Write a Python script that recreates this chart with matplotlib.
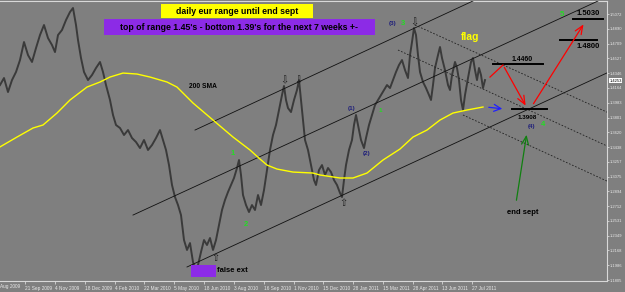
import matplotlib
matplotlib.use("Agg")
import matplotlib.pyplot as plt
from matplotlib.patches import Rectangle

# EURUSD daily, x = bar column of the MT4 window, close
bar_x = [0, 4, 8, 12, 16, 20, 24, 28, 32, 36, 40, 44, 48, 52, 55, 58, 62, 66, 70, 73,
         76, 78, 81, 84, 88, 92, 96, 100, 103, 106, 110, 113, 116, 120, 124, 128, 132, 136, 140, 144,
         148, 152, 156, 160, 163, 166, 169, 172, 175, 178, 181, 184, 187, 190, 193, 196, 198, 201, 204, 207,
         210, 213, 216, 219, 222, 225, 228, 231, 234, 237, 239, 241, 243, 246, 249, 252, 255, 258, 261, 264,
         267, 270, 273, 276, 279, 282, 284, 286, 288, 291, 294, 297, 299, 301, 303, 305, 308, 311, 314, 316,
         319, 322, 325, 328, 331, 334, 337, 340, 342, 344, 346, 349, 352, 354, 356, 358, 361, 364, 366, 369,
         372, 375, 378, 381, 384, 387, 390, 393, 396, 399, 402, 405, 408, 410, 412, 414, 416, 418, 420, 423,
         426, 429, 431, 433, 435, 438, 440, 442, 445, 448, 450, 452, 455, 457, 459, 461, 463, 465, 468, 471,
         473, 475, 477, 479, 481, 483, 485]
close = [1.4200, 1.4286, 1.4114, 1.4261, 1.4360, 1.4507, 1.4728, 1.4568, 1.4483, 1.4654,
         1.4814, 1.4937, 1.4777, 1.4691, 1.4605, 1.4814, 1.4876, 1.4998, 1.5097, 1.5146,
         1.4937, 1.4753, 1.4532, 1.4360, 1.4261, 1.4323, 1.4409, 1.4483, 1.4360, 1.4200,
         1.4016, 1.3832, 1.3709, 1.3672, 1.3586, 1.3647, 1.3549, 1.3500, 1.3426, 1.3525,
         1.3402, 1.3463, 1.3549, 1.3647, 1.3525, 1.3402, 1.3217, 1.2972, 1.2824, 1.2726,
         1.2603, 1.2296, 1.2174, 1.2259, 1.2026, 1.1903, 1.1989, 1.2149, 1.2296, 1.2235,
         1.2321, 1.2174, 1.2296, 1.2481, 1.2665, 1.2788, 1.2886, 1.2972, 1.3058, 1.3181,
         1.3279, 1.3095, 1.2849, 1.2726, 1.2640, 1.2726, 1.2665, 1.2849, 1.2726, 1.2910,
         1.3156, 1.3402, 1.3586, 1.3709, 1.3893, 1.4077, 1.4188, 1.4016, 1.3917, 1.3868,
         1.4016, 1.4139, 1.4261, 1.4016, 1.3770, 1.3525, 1.3402, 1.3217, 1.3033, 1.2972,
         1.3156, 1.3217, 1.3095, 1.3181, 1.3131, 1.3033, 1.2972, 1.2874, 1.2824, 1.3033,
         1.3217, 1.3402, 1.3525, 1.3709, 1.3832, 1.3709, 1.3525, 1.3426, 1.3549, 1.3709,
         1.3832, 1.3954, 1.4016, 1.4077, 1.4139, 1.4200, 1.4163, 1.4261, 1.4360, 1.4446,
         1.4507, 1.4384, 1.4286, 1.4568, 1.4728, 1.4900, 1.4814, 1.4568, 1.4360, 1.4237,
         1.4163, 1.4077, 1.4016, 1.4200, 1.4409, 1.4568, 1.4667, 1.4532, 1.4384, 1.4200,
         1.4139, 1.4323, 1.4483, 1.4409, 1.4261, 1.4016, 1.3893, 1.4077, 1.4286, 1.4483,
         1.4532, 1.4384, 1.4261, 1.4409, 1.4323, 1.4163, 1.4261]

sma_x = [0, 17, 33, 43, 57, 70, 87, 100, 110, 123, 137, 150, 167, 177, 193, 213, 233, 250,
         260, 267, 277, 293, 313, 320, 340, 353, 367, 383, 400, 413, 427, 440, 453, 467, 483]
sma_200 = [1.3440, 1.3561, 1.3672, 1.3709, 1.3856, 1.4016, 1.4175, 1.4237, 1.4298, 1.4347,
           1.4335, 1.4298, 1.4237, 1.4175, 1.3979, 1.3770, 1.3561, 1.3402, 1.3291, 1.3217,
           1.3168, 1.3131, 1.3119, 1.3095, 1.3058, 1.3058, 1.3119, 1.3279, 1.3414, 1.3561,
           1.3647, 1.3770, 1.3856, 1.3893, 1.3930]

price_ticks = [1.1805, 1.1986, 1.2168, 1.2349, 1.2531, 1.2712, 1.2894, 1.3075, 1.3257,
               1.3438, 1.3620, 1.3801, 1.3983, 1.4164, 1.4346, 1.4527, 1.4709, 1.4890, 1.5072]
date_x = [25, 55, 85, 115, 144, 174, 204, 234, 264, 294, 323, 353, 383, 413, 442, 472]
date_labels = ["21 Sep 2009", "4 Nov 2009", "18 Dec 2009", "4 Feb 2010",
               "22 Mar 2010", "5 May 2010", "18 Jun 2010", "3 Aug 2010", "16 Sep 2010",
               "1 Nov 2010", "15 Dec 2010", "28 Jan 2011", "15 Mar 2011", "28 Apr 2011",
               "13 Jun 2011", "27 Jul 2011"]
first_label = "Aug 2009"  # left-most date, cut by the window edge in the original

# channel (solid) and flag (dotted) trend lines: x0, p0, x1, p1
channel = [(195, 1.3647, 475, 1.5244), (133, 1.2603, 598, 1.5232), (187, 1.1965, 609, 1.4360)]
flag = [(415, 1.4937, 609, 1.3856), (398, 1.4630, 609, 1.3440), (463, 1.3832, 609, 1.3009)]

# target levels: label, drawn price, x-span
levels = [("1.4460", 1.4458, 493, 543), ("1.3908", 1.3905, 512, 547),
          ("1.4800", 1.4753, 560, 597), ("1.5030", 1.5011, 573, 603)]
last_price = "1.4253"

BG = "#7f7f7f"
TICK = "#e8e8e8"
plt.rcParams["font.family"] = ["Liberation Sans", "DejaVu Sans"]

fig = plt.figure(figsize=(6.25, 2.92), dpi=100, facecolor=BG)
ax = fig.add_axes([0, 11 / 292, 607 / 625, 280 / 292])
ax.set_facecolor(BG)
ax.set_xlim(0, 607)
ax.set_ylim(1.1793, 1.5232)

ax.spines["left"].set_visible(False)
for s in ["right", "bottom", "top"]:
    ax.spines[s].set_color("#d8d8d8")
    ax.spines[s].set_linewidth(0.8)

ax.yaxis.tick_right()
ax.set_yticks(price_ticks)
ax.set_yticklabels(["%.4f" % v for v in price_ticks])
ax.tick_params(axis="y", colors=TICK, labelsize=3.0, length=1.5, width=0.5, pad=0.6)
ax.set_xticks(date_x)
ax.set_xticklabels(date_labels, ha="left")
ax.tick_params(axis="x", colors=TICK, labelsize=3.4, length=2, width=0.5, pad=1.5)
ax.text(0.5, -0.012, first_label, transform=ax.get_xaxis_transform(),
        fontsize=3.4, color=TICK, ha="left", va="top", clip_on=False)

# price
ax.plot(bar_x, close, color="#3a3a3a", lw=1.4, zorder=2)
# 200 SMA
ax.plot(sma_x, sma_200, color="#ffff00", lw=1.0, zorder=4)

for x0, p0, x1, p1 in channel:
    ax.plot([x0, x1], [p0, p1], color="#101010", lw=0.6, zorder=3)
for x0, p0, x1, p1 in flag:
    ax.plot([x0, x1], [p0, p1], color="#202020", lw=0.6, ls=(0, (2, 2)), zorder=3)

for lab, p, x0, x1 in levels:
    ax.plot([x0, x1], [p, p], color="black", lw=1.4, zorder=5)
ax.text(522, 1.4519, "1.4460", fontsize=5, fontweight="bold", ha="center", va="center")
ax.text(527, 1.3795, "1.3908", fontsize=4.5, fontweight="bold", ha="center", va="center")
ax.text(588, 1.4679, "1.4800", fontsize=5.5, fontweight="bold", ha="center", va="center")
ax.text(588, 1.5084, "1.5030", fontsize=5.5, fontweight="bold", ha="center", va="center")

# projected path
ax.plot([490, 503], [1.4298, 1.4446], color="red", lw=0.9, zorder=6)
ax.annotate("", xy=(527, 1.3917), xytext=(503, 1.4446),
            arrowprops=dict(arrowstyle="->,head_length=0.6,head_width=0.25", color="red", lw=0.9), zorder=6)
ax.annotate("", xy=(585, 1.4974), xytext=(532, 1.3942),
            arrowprops=dict(arrowstyle="->,head_length=0.6,head_width=0.25", color="red", lw=0.9), zorder=6)
ax.annotate("", xy=(505, 1.3905), xytext=(486, 1.3930),
            arrowprops=dict(arrowstyle="->,head_length=0.5,head_width=0.25", color="#2020ff", lw=0.9), zorder=6)
ax.annotate("", xy=(527, 1.3623), xytext=(516, 1.2751),
            arrowprops=dict(arrowstyle="->,head_length=0.6,head_width=0.25", color="#108010", lw=0.9), zorder=6)

# boxes at the top
ax.add_patch(Rectangle((161, 1.5023), 152, 0.0172, fc="#ffff00", ec="none", zorder=7))
ax.text(237, 1.5109, "daily eur range until end sept", fontsize=6.3, fontweight="bold",
        ha="center", va="center", zorder=8)
ax.add_patch(Rectangle((104, 1.4814), 271, 0.0197, fc="#8c2be6", ec="none", zorder=7))
ax.text(239.5, 1.4912, "top of range 1.45's - bottom 1.39's for the next 7 weeks +-", fontsize=6.3,
        fontweight="bold", ha="center", va="center", zorder=8)
ax.add_patch(Rectangle((191, 1.1842), 25, 0.0147, fc="#8c2be6", ec="none", zorder=7))
ax.text(217, 1.1916, "false ext", fontsize=5.5, fontweight="bold", ha="left", va="center", zorder=8)

# wave counts and markers
navy = "#20207a"
green = "#22dd22"
small = dict(fontsize=4.5, fontweight="bold", ha="center", va="center", zorder=8)
big = dict(fontsize=5.5, fontweight="bold", ha="center", va="center", zorder=8)
ax.text(393, 1.4961, "(3)", color=navy, **small)
ax.text(403, 1.4961, "3", color=green, **big)
ax.text(352, 1.3917, "(1)", color=navy, **small)
ax.text(380, 1.3881, "1", color=green, **small)
ax.text(367, 1.3353, "(2)", color=navy, **small)
ax.text(532, 1.3696, "(4)", color=navy, **small)
ax.text(543, 1.3721, "4", color=green, **big)
ax.text(562, 1.5072, "5", color=green, **big)
ax.text(233, 1.3365, "1", color=green, **big)
ax.text(246, 1.2481, "2", color=green, **big)

arrow_kw = dict(fontsize=7, color="#202020", ha="center", va="center", family="DejaVu Sans", zorder=8)
ax.text(414, 1.4974, "\u21e9", **arrow_kw)
ax.text(284, 1.4261, "\u21e9", **arrow_kw)
ax.text(298, 1.4261, "\u21e9", **arrow_kw)
ax.text(215, 1.2075, "\u21e7", **arrow_kw)
ax.text(343, 1.2751, "\u21e7", **arrow_kw)

ax.text(470, 1.4790, "flag", color="#ffff00", fontsize=7.5, fontweight="bold", ha="center", va="center")
ax.text(203, 1.4188, "200 SMA", color="black", fontsize=4.8, fontweight="bold", ha="center", va="center")
ax.text(523, 1.2640, "end sept", color="black", fontsize=5.5, fontweight="bold", ha="center", va="center")

# current price marker on the scale
ax.text(1.004, 1.4253, last_price, transform=ax.get_yaxis_transform(), fontsize=3.0,
        color="black", ha="left", va="center", clip_on=False,
        bbox=dict(boxstyle="square,pad=0.1", fc="white", ec="none"))

fig.savefig("out.png", dpi=100, facecolor=BG)
